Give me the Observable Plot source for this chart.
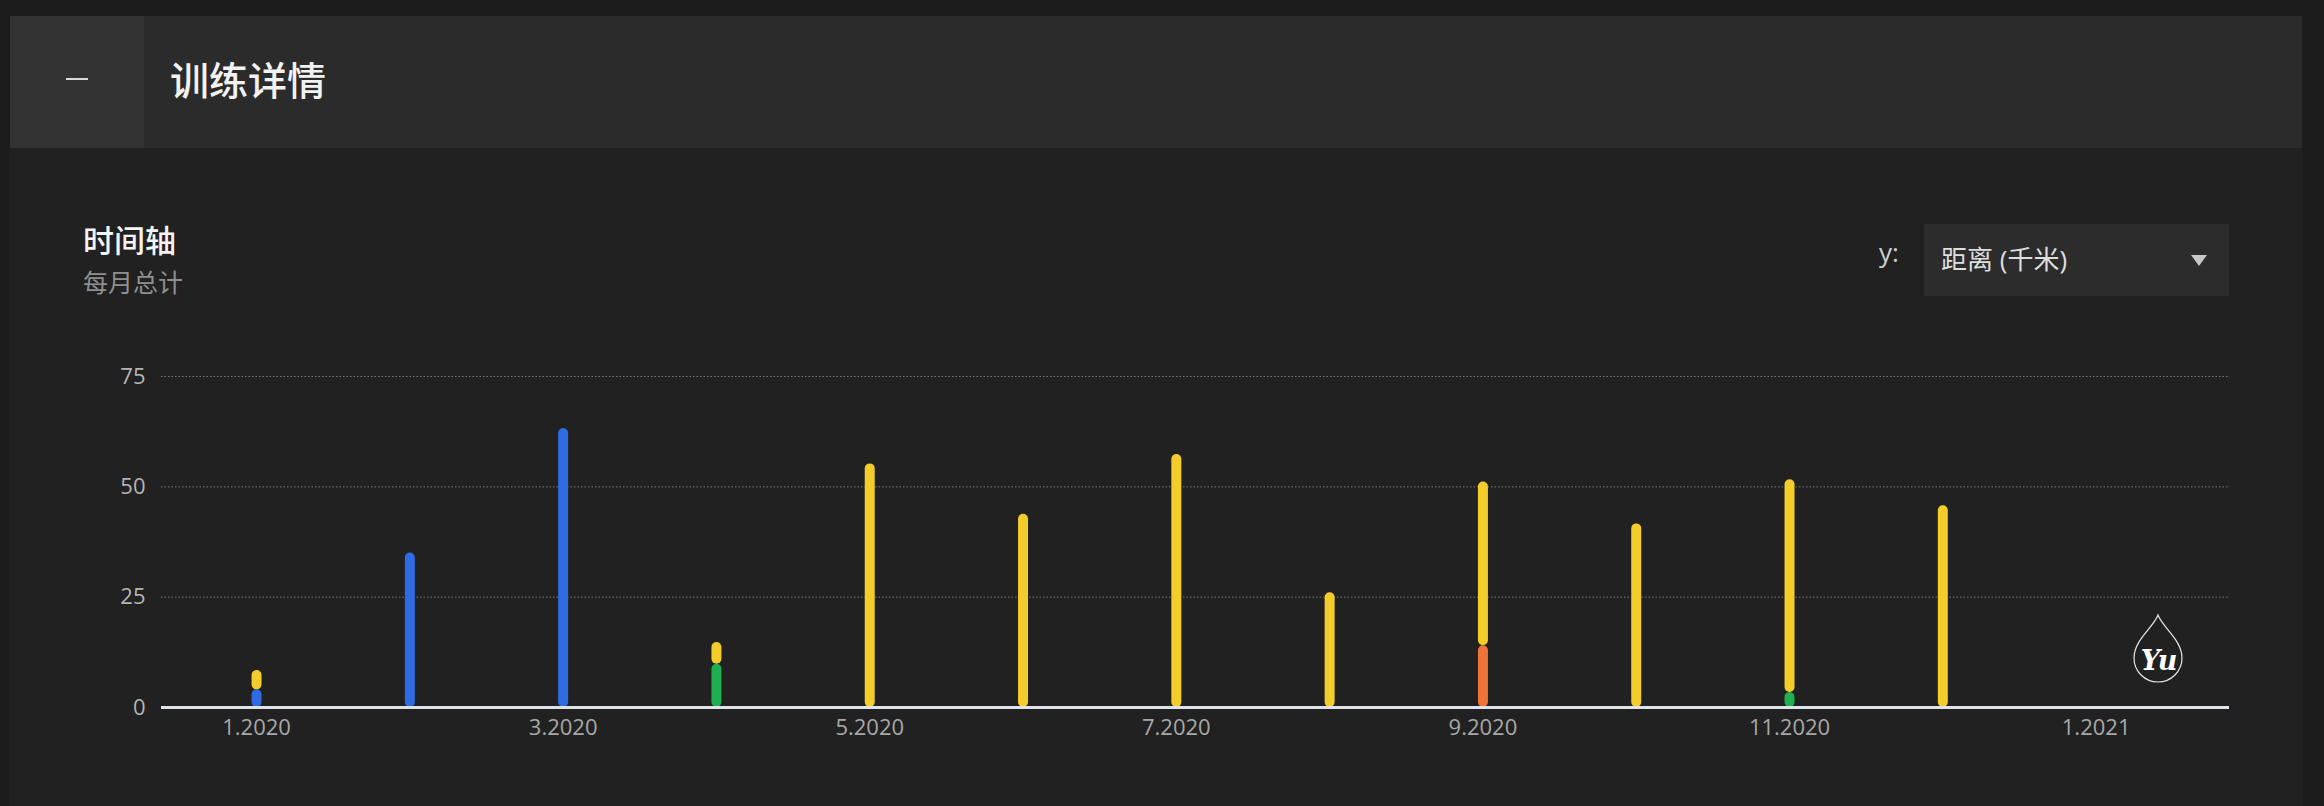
<!DOCTYPE html>
<html>
<head>
<meta charset="utf-8">
<script src="https://cdn.jsdelivr.net/npm/d3@7"></script>
<script src="https://cdn.jsdelivr.net/npm/@observablehq/plot@0.6"></script>
<style>
  html, body { margin: 0; padding: 0; background: #1c1c1c; width: 2324px; height: 806px; overflow: hidden; }
  body { position: relative; font-family: "Open Sans", "Noto Sans CJK SC", sans-serif; }
  .abs { position: absolute; }
  #panel { left: 10px; top: 16px; width: 2292px; height: 790px; background: #212121; }
  #header { left: 10px; top: 16px; width: 2292px; height: 132px; background: #2b2b2b; }
  #toggle { left: 10px; top: 16px; width: 134px; height: 132px; background: #333333; }
  #dash { left: 66px; top: 78px; width: 22px; height: 2px; background: #d8d8d8; }
  #title { left: 170px; top: 53px; font-family: "Noto Sans CJK SC", sans-serif; font-size: 39px; font-weight: 500; color: #f2f2f2; line-height: 50px; }
  #sub1 { left: 83px; top: 219px; font-family: "Noto Sans CJK SC", sans-serif; font-size: 31px; font-weight: 500; color: #f4f4f4; line-height: 40px; }
  #sub2 { left: 83px; top: 264px; font-family: "Noto Sans CJK SC", sans-serif; font-size: 25px; color: #8f8f8f; line-height: 34px; }
  #ylab { left: 1879px; top: 235px; font-size: 26px; color: #cfcfcf; line-height: 34px; }
  #select { left: 1924px; top: 224px; width: 305px; height: 72px; background: #2c2c2c; }
  #selText { left: 1941px; top: 242px; font-family: "Open Sans", "Noto Sans CJK SC", sans-serif; font-size: 26px; color: #dedede; line-height: 34px; }
  #caret { left: 2191px; top: 255px; width: 0; height: 0; border-left: 8px solid transparent; border-right: 8px solid transparent; border-top: 11px solid #c8c8c8; }
  #chart { left: 0px; top: 340px; }
  #logo { left: 2128px; top: 608px; }
</style>
</head>
<body>
<div id="panel" class="abs"></div>
<div id="header" class="abs"></div>
<div id="toggle" class="abs"></div>
<div id="dash" class="abs"></div>
<div id="title" class="abs">训练详情</div>
<div id="sub1" class="abs">时间轴</div>
<div id="sub2" class="abs">每月总计</div>
<div id="ylab" class="abs">y:</div>
<div id="select" class="abs"></div>
<div id="selText" class="abs">距离 (千米)</div>
<div id="caret" class="abs"></div>
<div id="chart" class="abs"></div>
<svg id="logo" class="abs" width="60" height="84" viewBox="0 0 60 84">
  <path d="M30,7 C35,20 54,32 54,50 A24,24 0 0 1 6,50 C6,32 25,20 30,7 Z" fill="none" stroke="#e8e8e8" stroke-width="1.2"/>
  <text x="31" y="62" text-anchor="middle" font-family="DejaVu Serif" font-style="italic" font-weight="bold" font-size="27" fill="#ffffff">Yu</text>
</svg>
<script>
// Monthly distance totals (km), one array per activity type.
// Months are placed on an evenly spaced month index (0 = Jan 2020).
const months  = ["1.2020", "2.2020", "3.2020", "4.2020", "5.2020", "6.2020",
                 "7.2020", "8.2020", "9.2020", "10.2020", "11.2020", "12.2020"];
const typeA   = [4.0, 35.0, 63.2, 0, 0, 0, 0, 0, 0, 0, 0, 0];          // blue
const typeB   = [0, 0, 0, 9.8, 0, 0, 0, 0, 0, 0, 3.4, 0];              // green
const typeC   = [0, 0, 0, 0, 0, 0, 0, 0, 14.0, 0, 0, 0];               // orange
const typeD   = [4.4, 0, 0, 4.9, 55.2, 43.8, 57.3, 26.0, 37.1, 41.6, 48.2, 45.7]; // yellow

const types   = ["typeA", "typeB", "typeC", "typeD"];
const colors  = ["#2f6be3", "#1fae50", "#f07338", "#f4cd2a"];
const seriesByType = {typeA, typeB, typeC, typeD};

// Axis ticks: every second month, labelled month.year
const xTickIndex  = [0, 2, 4, 6, 8, 10, 12];
const xTickLabels = ["1.2020", "3.2020", "5.2020", "7.2020", "9.2020", "11.2020", "1.2021"];
const yTicks      = [0, 25, 50, 75];

const rows = [];
for (const t of types) {
  seriesByType[t].forEach((v, i) => {
    if (v > 0) rows.push({month: i, label: months[i], type: t, km: v});
  });
}

const chart = Plot.plot({
  width: 2324,
  height: 420,
  marginLeft: 161,
  marginRight: 95,
  marginTop: 36,
  marginBottom: 53,
  style: {background: "transparent", color: "#ababab", fontFamily: "Open Sans", fontSize: "22px", overflow: "visible"},
  x: {type: "linear", domain: [-0.62, 12.87]},
  y: {domain: [0, 75]},
  color: {domain: types, range: colors},
  marks: [
    Plot.gridY(yTicks.filter(d => d > 0), {stroke: "#7a7a7a", strokeOpacity: 1, strokeWidth: 1, strokeDasharray: "1.5,2"}),
    Plot.axisY(yTicks, {tickSize: 0, tickPadding: 16, label: null, fontSize: 22, fill: "#b4b4b4"}),
    Plot.axisX(xTickIndex, {tickSize: 0, tickPadding: 12, label: null,
      tickFormat: (d) => xTickLabels[xTickIndex.indexOf(d)], fontSize: 22, fill: "#a8a8a8"}),
    // rounded segments kept inside their stacked extent (caps pulled in by half the stroke width)
    Plot.ruleX(rows, Plot.stackY({
      x: "month", y: "km", z: "type", order: types,
      stroke: "type", strokeWidth: 10, strokeLinecap: "round",
      insetTop: -5, insetBottom: -5
    })),
    Plot.ruleY([0], {stroke: "#dfe3ea", strokeWidth: 3})
  ]
});
document.getElementById("chart").appendChild(chart);
</script>
</body>
</html>
